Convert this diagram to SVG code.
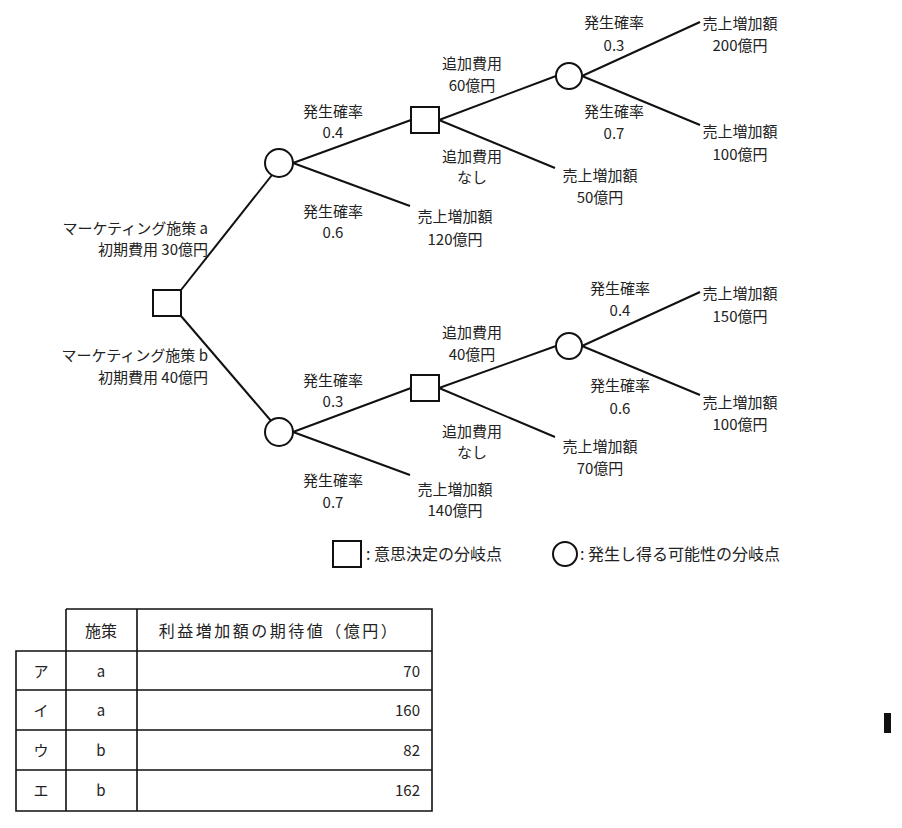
<svg xmlns="http://www.w3.org/2000/svg" width="902" height="828" viewBox="0 0 902 828">
<style>
text{font-family:"Noto Sans CJK JP","DejaVu Sans Mono",sans-serif;font-size:15px;fill:#222}
.m{text-anchor:middle}.r{text-anchor:end}
.w{letter-spacing:2.5px;font-size:16px}
.n{fill:#fff;stroke:#111;stroke-width:2}
.l{stroke:#111;stroke-width:2;fill:none}
.t{stroke:#111;stroke-width:1.6;fill:none}
</style>
<rect width="902" height="828" fill="#fff"/>
<g id="connectors" class="l">
<line x1="181" y1="290" x2="272" y2="175"/>
<line x1="181" y1="316" x2="272" y2="422"/>
<line x1="293" y1="163" x2="411" y2="120"/>
<line x1="293" y1="163" x2="410" y2="206"/>
<line x1="439" y1="120" x2="556" y2="76"/>
<line x1="439" y1="120" x2="555" y2="168"/>
<line x1="582" y1="76" x2="700" y2="22"/>
<line x1="582" y1="76" x2="700" y2="125"/>
<line x1="293" y1="432" x2="411" y2="388"/>
<line x1="293" y1="432" x2="410" y2="475"/>
<line x1="439" y1="388" x2="556" y2="346"/>
<line x1="439" y1="388" x2="555" y2="437"/>
<line x1="582" y1="346" x2="700" y2="292"/>
<line x1="582" y1="346" x2="700" y2="395"/>
</g>
<g id="root"><rect class="n" x="153" y="290" width="28" height="26"/></g>
<g id="chanceA"><circle class="n" cx="279" cy="163" r="14"/></g>
<g id="chanceB"><circle class="n" cx="279" cy="432" r="14"/></g>
<g id="decA"><rect class="n" x="411" y="107" width="28" height="26"/></g>
<g id="decB"><rect class="n" x="411" y="375" width="28" height="26"/></g>
<g id="chanceA2"><circle class="n" cx="569" cy="76" r="13"/></g>
<g id="chanceB2"><circle class="n" cx="569" cy="346" r="13"/></g>
<g id="labels">
<text class="r" x="208" y="234">マーケティング施策 a</text>
<text class="r" x="208" y="255">初期費用 30億円</text>
<text class="r" x="208" y="361">マーケティング施策 b</text>
<text class="r" x="208" y="383">初期費用 40億円</text>
<text class="m" x="333" y="117">発生確率</text><text class="m" x="333" y="138">0.4</text>
<text class="m" x="333" y="217">発生確率</text><text class="m" x="333" y="238">0.6</text>
<text class="m" x="472" y="69">追加費用</text><text class="m" x="472" y="91">60億円</text>
<text class="m" x="472" y="162">追加費用</text><text class="m" x="472" y="183">なし</text>
<text class="m" x="455" y="222">売上増加額</text><text class="m" x="455" y="245">120億円</text>
<text class="m" x="600" y="181">売上増加額</text><text class="m" x="600" y="203">50億円</text>
<text class="m" x="614" y="28">発生確率</text><text class="m" x="614" y="51">0.3</text>
<text class="m" x="614" y="117">発生確率</text><text class="m" x="614" y="139">0.7</text>
<text class="m" x="740" y="29">売上増加額</text><text class="m" x="740" y="51">200億円</text>
<text class="m" x="740" y="137">売上増加額</text><text class="m" x="740" y="160">100億円</text>
<text class="m" x="333" y="386">発生確率</text><text class="m" x="333" y="407">0.3</text>
<text class="m" x="333" y="486">発生確率</text><text class="m" x="333" y="508">0.7</text>
<text class="m" x="472" y="338">追加費用</text><text class="m" x="472" y="360">40億円</text>
<text class="m" x="472" y="437">追加費用</text><text class="m" x="472" y="458">なし</text>
<text class="m" x="455" y="495">売上増加額</text><text class="m" x="455" y="516">140億円</text>
<text class="m" x="600" y="452">売上増加額</text><text class="m" x="600" y="474">70億円</text>
<text class="m" x="620" y="294">発生確率</text><text class="m" x="620" y="316">0.4</text>
<text class="m" x="620" y="391">発生確率</text><text class="m" x="620" y="414">0.6</text>
<text class="m" x="740" y="299">売上増加額</text><text class="m" x="740" y="322">150億円</text>
<text class="m" x="740" y="408">売上増加額</text><text class="m" x="740" y="430">100億円</text>
</g>
<g id="legend">
<rect class="n" x="333" y="541" width="28" height="26"/>
<text x="366" y="560" style="font-size:16px">: 意思決定の分岐点</text>
<circle class="n" cx="565" cy="554" r="12"/>
<text x="580" y="560" style="font-size:16px">: 発生し得る可能性の分岐点</text>
</g>
<g id="table">
<path class="t" d="M66 609H432V811H16V651H432M16 690H432M16 730H432M16 770H432M16 651V811M66 609V811M137 609V811"/>
<text class="m" x="101" y="637" style="font-size:16px">施策</text>
<text class="m w" x="279" y="637">利益増加額の期待値（億円）</text>
<text class="m" x="41" y="677">ア</text><text class="m" x="101" y="677">a</text><text class="r" x="420" y="677">70</text>
<text class="m" x="41" y="716">イ</text><text class="m" x="101" y="716">a</text><text class="r" x="420" y="716">160</text>
<text class="m" x="41" y="756">ウ</text><text class="m" x="101" y="756">b</text><text class="r" x="420" y="756">82</text>
<text class="m" x="41" y="796">エ</text><text class="m" x="101" y="796">b</text><text class="r" x="420" y="796">162</text>
</g>
<rect x="884" y="713" width="7" height="20" fill="#111"/>
</svg>
